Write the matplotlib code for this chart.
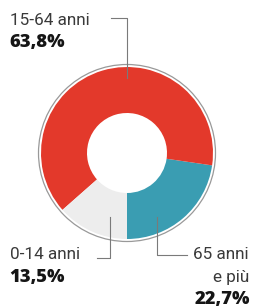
import matplotlib.pyplot as plt

# data
groups = ["65 anni\ne più", "15-64 anni", "0-14 anni"]
shares = [22.7, 63.8, 13.5]
share_labels = ["22,7%", "63,8%", "13,5%"]
colors = ["#3a9db2", "#e3392b", "#ededed"]

W, H = 258, 307
fig = plt.figure(figsize=(W / 100, H / 100), dpi=100)
ax = fig.add_axes([0, 0, 1, 1])


def Y(y):
    # picture rows counted from the top
    return H - y


cx, cy, r = 127, Y(153), 86
ax.pie(shares, colors=colors, startangle=270, counterclock=True,
       center=(cx, cy), radius=r, frame=True,
       wedgeprops=dict(width=46, linewidth=0))
ax.set_xlim(0, W)
ax.set_ylim(0, H)
ax.set_aspect("equal")
ax.axis("off")
ring = plt.Circle((cx, cy), r + 2.5, fill=False, color="#999999", lw=0.9)
ax.add_patch(ring)

font = "Roboto"
bfont = "Open Sans"
txt = "#3a3a3a"
lc = "#7a7a7a"
fs, bfs = 12.3, 13.2

# 15-64
ax.text(10, Y(25), groups[1], fontsize=fs, family=font, color=txt)
ax.text(9, Y(47), share_labels[1], fontsize=bfs, family=bfont,
        weight="heavy", color="#151515")
ax.plot([111, 127, 127], [Y(18), Y(18), Y(78)], color=lc, lw=0.8)

# 0-14
ax.text(10, Y(259), groups[2], fontsize=fs, family=font, color=txt)
ax.text(9, Y(282), share_labels[2], fontsize=bfs, family=bfont,
        weight="heavy", color="#151515")
ax.plot([97, 110, 110], [Y(258), Y(258), Y(217)], color=lc, lw=0.8)

# 65+
ax.text(249, Y(259), "65 anni", fontsize=fs, family=font, color=txt,
        ha="right")
ax.text(249, Y(282), "e più", fontsize=fs, family=font, color=txt,
        ha="right")
ax.text(250, Y(304), share_labels[0], fontsize=bfs, family=bfont,
        weight="heavy", color="#151515", ha="right")
ax.plot([157, 157, 187], [Y(217), Y(255), Y(255)], color=lc, lw=0.8)

fig.savefig("out.png", dpi=100)
